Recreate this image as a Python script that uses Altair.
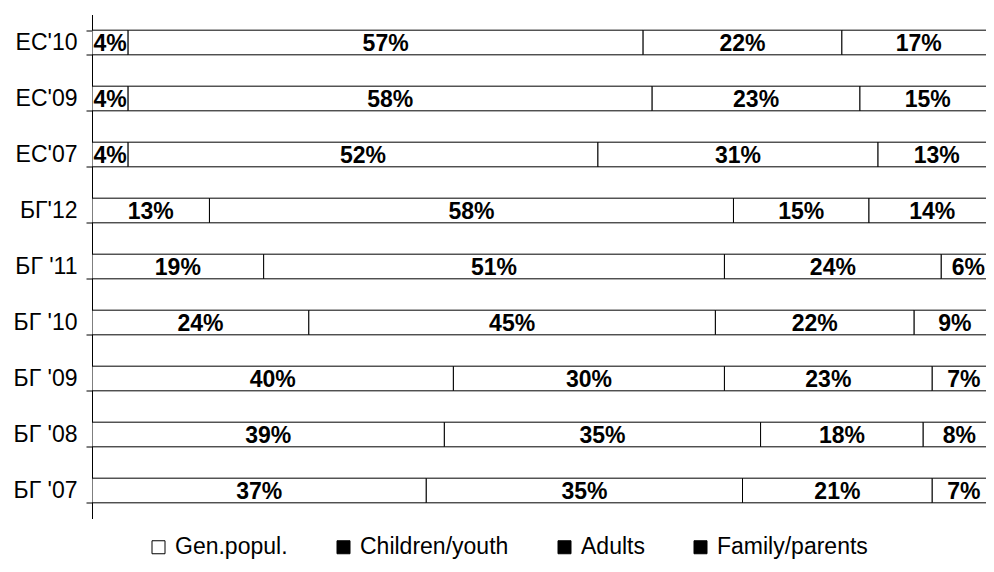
import altair as alt
import pandas as pd

categories = ["ЕС'10", "ЕС'09", "ЕС'07", "БГ'12", "БГ '11", "БГ '10", "БГ '09", "БГ '08", "БГ '07"]
series = ["Gen.popul.", "Children/youth", "Adults", "Family/parents"]
legend_fills = ["white", "black", "black", "black"]
gen_popul = [4, 4, 4, 13, 19, 24, 40, 39, 37]
children_youth = [57, 58, 52, 58, 51, 45, 30, 35, 35]
adults = [22, 23, 31, 15, 24, 22, 23, 18, 21]
family_parents = [17, 15, 13, 14, 6, 9, 7, 8, 7]

rows = []
for i, c in enumerate(categories):
    for j, (s, vals) in enumerate(zip(series, [gen_popul, children_youth, adults, family_parents])):
        rows.append({"cat": c, "series": s, "order": j, "value": vals[i], "label": f"{vals[i]}%"})
df = pd.DataFrame(rows)

FONT = "Liberation Sans"

base = alt.Chart(df).transform_stack(
    stack="value", as_=["x0", "x1"], groupby=["cat"],
    sort=[alt.SortField("order", order="ascending")]
).transform_calculate(mid="(datum.x0 + datum.x1) / 2")

xscale = alt.Scale(domain=[0, 98.95], nice=False, zero=False)
yenc = alt.Y(
    "cat:N", sort=categories,
    scale=alt.Scale(paddingInner=0.56, paddingOuter=0.28),
    axis=alt.Axis(
        title=None, tickBand="extent", domainColor="black", domainWidth=1,
        tickColor="black", tickSize=6, tickWidth=1, labelColor="black",
        labelFont=FONT, labelFontSize=23, labelPadding=9, grid=False
    ),
)

bars = base.mark_bar(fill="white", stroke="black", strokeWidth=1, clip=True).encode(
    x=alt.X("x0:Q", scale=xscale, axis=None),
    x2="x1:Q",
    y=yenc,
)

legend_layer = base.mark_point(shape="square", filled=True, opacity=0).encode(
    x=alt.X("mid:Q", scale=xscale, axis=None),
    y=alt.Y("cat:N", sort=categories),
    fill=alt.Fill(
        "series:N",
        scale=alt.Scale(domain=series, range=legend_fills),
        legend=alt.Legend(
            title=None, orient="none", legendX=55, legendY=521,
            direction="horizontal", columns=4, columnPadding=44,
            symbolType="square", symbolSize=169, symbolStrokeWidth=1,
            symbolStrokeColor="black", symbolOpacity=1,
            labelFont=FONT, labelFontSize=23, labelColor="black",
            labelOffset=5, labelLimit=300,
        ),
    ),
)

text = base.mark_text(
    font=FONT, fontWeight="bold", fontSize=23, color="black", baseline="middle", dy=1
).encode(
    x=alt.X("mid:Q", scale=xscale, axis=None),
    y=alt.Y("cat:N", sort=categories),
    text="label:N",
)

chart = alt.layer(bars, legend_layer, text).properties(
    width=894, height=504,
    autosize=alt.AutoSizeParams(type="none"),
    padding={"left": 84, "top": 6.5, "right": 0, "bottom": 41.5},
).configure_view(stroke=None)

chart.save("out.html", embed_options={"renderer": "svg", "actions": False})
